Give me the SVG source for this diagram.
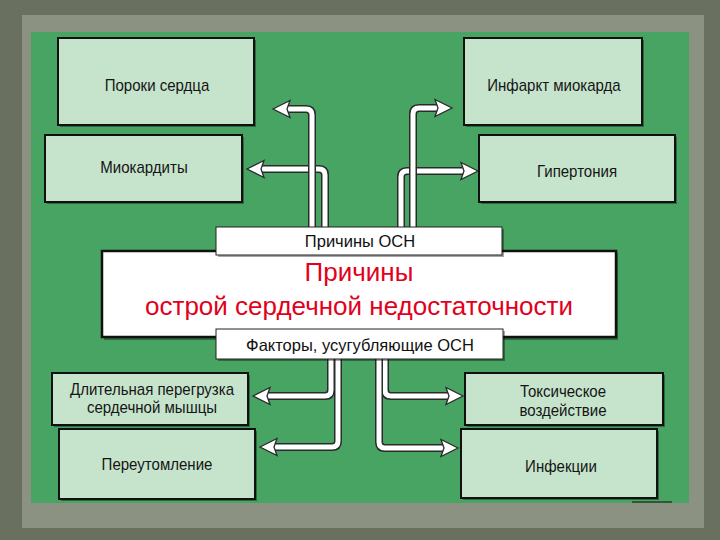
<svg xmlns="http://www.w3.org/2000/svg" width="720" height="540" viewBox="0 0 720 540">
<style>
.box{fill:#c6e4cc;stroke:#111;stroke-width:2}
.lbl{fill:#fff;stroke:#222;stroke-width:1}
.main{fill:#fff;stroke:#111;stroke-width:2.5}
.sh{fill:#000;opacity:0.35}
.t{font-family:"Liberation Sans",Arial,sans-serif;font-size:16px;fill:#151515;text-anchor:middle}
.tl{font-family:"Liberation Sans",Arial,sans-serif;font-size:16.5px;fill:#111;text-anchor:middle}
.tr{font-family:"Liberation Sans",Arial,sans-serif;font-size:26px;fill:#e2001c;text-anchor:middle}
.wo{fill:none;stroke:#2a2a2a;stroke-width:8;stroke-linejoin:round}
.wi{fill:none;stroke:#fff;stroke-width:5;stroke-linejoin:round}
.ah{fill:#fff;stroke:#2a2a2a;stroke-width:1.3;stroke-linejoin:miter}
</style>
<defs>
<path id="headL" d="M0,0 L17,-8.5 L14,0 L17,8.5 Z"/>
</defs>
<rect width="720" height="540" fill="#6a7060"/>
<rect x="22" y="15" width="682" height="513" fill="#8c9282"/>
<rect x="31" y="32" width="658" height="471" fill="#47a462"/>
<line x1="632" y1="502" x2="672" y2="502" stroke="#111" stroke-width="1"/>

<g id="connectors">
  <g id="a2">
    <path class="wo" d="M325,228 V175 Q325,169 319,169 H260"/>
    <path class="wi" d="M325,228 V175 Q325,169 319,169 H260"/>
    <use href="#headL" class="ah" transform="translate(247,169)"/>
  </g>
  <g id="a1">
    <path class="wo" d="M312,228 V115 Q312,109 306,109 H286"/>
    <path class="wi" d="M312,228 V115 Q312,109 306,109 H286"/>
    <use href="#headL" class="ah" transform="translate(273,109)"/>
  </g>
  <g id="a4">
    <path class="wo" d="M401,228 V177 Q401,171 407,171 H465"/>
    <path class="wi" d="M401,228 V177 Q401,171 407,171 H465"/>
    <use href="#headL" class="ah" transform="translate(478,171) scale(-1,1)"/>
  </g>
  <g id="a3">
    <path class="wo" d="M413,228 V114 Q413,108 419,108 H439"/>
    <path class="wi" d="M413,228 V114 Q413,108 419,108 H439"/>
    <use href="#headL" class="ah" transform="translate(452,108) scale(-1,1)"/>
  </g>
  <g id="b1">
    <path class="wo" d="M331,358 V390 Q331,396 325,396 H266"/>
    <path class="wi" d="M331,358 V390 Q331,396 325,396 H266"/>
    <use href="#headL" class="ah" transform="translate(253,396)"/>
  </g>
  <g id="b2">
    <path class="wo" d="M338,358 V441 Q338,447 332,447 H273"/>
    <path class="wi" d="M338,358 V441 Q338,447 332,447 H273"/>
    <use href="#headL" class="ah" transform="translate(260,447)"/>
  </g>
  <g id="b3">
    <path class="wo" d="M385,358 V390 Q385,396 391,396 H450"/>
    <path class="wi" d="M385,358 V390 Q385,396 391,396 H450"/>
    <use href="#headL" class="ah" transform="translate(463,396) scale(-1,1)"/>
  </g>
  <g id="b4">
    <path class="wo" d="M379,358 V442 Q379,448 385,448 H445"/>
    <path class="wi" d="M379,358 V442 Q379,448 385,448 H445"/>
    <use href="#headL" class="ah" transform="translate(458,448) scale(-1,1)"/>
  </g>
</g>

<g id="poroki">
  <rect class="sh" x="60" y="40" width="196" height="87"/>
  <rect class="box" x="58" y="38" width="196" height="87"/>
  <text class="t" transform="translate(157,91) scale(0.94,1)">Пороки сердца</text>
</g>
<g id="miokardity">
  <rect class="sh" x="47" y="137" width="197" height="67"/>
  <rect class="box" x="45" y="135" width="197" height="67"/>
  <text class="t" transform="translate(144,173) scale(0.94,1)">Миокардиты</text>
</g>
<g id="infarkt">
  <rect class="sh" x="466" y="40" width="178" height="87"/>
  <rect class="box" x="464" y="38" width="178" height="87"/>
  <text class="t" transform="translate(554,91) scale(0.94,1)">Инфаркт миокарда</text>
</g>
<g id="gipertoniya">
  <rect class="sh" x="481" y="137" width="196" height="67"/>
  <rect class="box" x="479" y="135" width="196" height="67"/>
  <text class="t" transform="translate(577,177) scale(0.94,1)">Гипертония</text>
</g>

<g id="main">
  <rect class="sh" x="104" y="253" width="514" height="87"/>
  <rect class="main" x="102" y="251" width="514" height="86"/>
  <text class="tr" x="359" y="281">Причины</text>
  <text class="tr" x="359" y="315">острой сердечной недостаточности</text>
</g>
<g id="prichiny-osn">
  <rect class="sh" x="218" y="229" width="286" height="28"/>
  <rect class="lbl" x="216" y="227" width="286" height="28"/>
  <text class="tl" x="360" y="247">Причины ОСН</text>
</g>
<g id="faktory">
  <rect class="sh" x="218" y="331" width="287" height="30"/>
  <rect class="lbl" x="216" y="329" width="287" height="30"/>
  <text class="tl" x="360" y="351">Факторы, усугубляющие ОСН</text>
</g>

<g id="peregruzka">
  <rect class="sh" x="54" y="375" width="196" height="52"/>
  <rect class="box" x="52" y="373" width="196" height="52"/>
  <text class="t" transform="translate(152,395) scale(0.94,1)">Длительная перегрузка</text>
  <text class="t" transform="translate(152,413) scale(0.94,1)">сердечной мышцы</text>
</g>
<g id="pereutomlenie">
  <rect class="sh" x="61" y="431" width="196" height="70"/>
  <rect class="box" x="59" y="429" width="196" height="70"/>
  <text class="t" transform="translate(157,470) scale(0.94,1)">Переутомление</text>
</g>
<g id="toksicheskoe">
  <rect class="sh" x="467" y="375" width="198" height="52"/>
  <rect class="box" x="465" y="373" width="198" height="52"/>
  <text class="t" transform="translate(563,397) scale(0.94,1)">Токсическое</text>
  <text class="t" transform="translate(563,416) scale(0.94,1)">воздействие</text>
</g>
<g id="infekcii">
  <rect class="sh" x="463" y="431" width="196" height="69"/>
  <rect class="box" x="461" y="429" width="196" height="69"/>
  <text class="t" transform="translate(561,472) scale(0.94,1)">Инфекции</text>
</g>
</svg>
